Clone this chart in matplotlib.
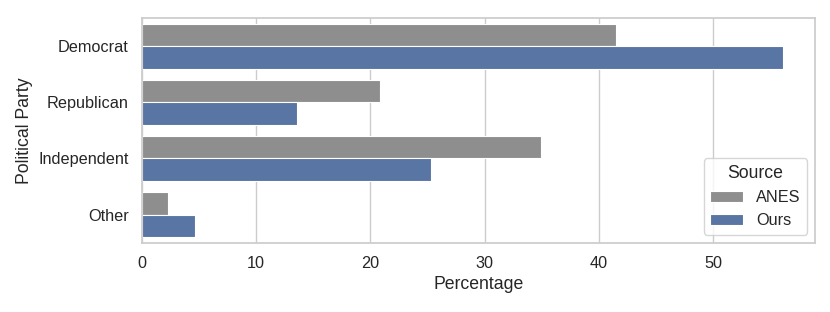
import matplotlib
matplotlib.use("Agg")
import matplotlib.pyplot as plt
import seaborn as sns
import numpy as np

categories = ["Democrat", "Republican", "Independent", "Other"]
sources = ["ANES", "Ours"]
anes = [41.5, 20.8, 34.9, 2.3]
ours = [56.1, 13.6, 25.3, 4.6]

sns.set_theme(style="whitegrid")
plt.rcParams['font.family'] = ['Arial', 'Liberation Sans', 'DejaVu Sans']
plt.rcParams.update({
    'xtick.labelsize': 11.7, 'ytick.labelsize': 11.7,
    'axes.labelsize': 12.7, 'legend.fontsize': 11.7,
    'legend.title_fontsize': 12.7,
})

fig, ax = plt.subplots(figsize=(8.3, 3.12), dpi=100)
y = np.arange(len(categories))
h = 0.4
colors = {"ANES": "#8e8e8e", "Ours": "#5975a4"}
ax.barh(y - h/2, anes, height=h, color=colors["ANES"], edgecolor="white", linewidth=0.8, label="ANES")
ax.barh(y + h/2, ours, height=h, color=colors["Ours"], edgecolor="white", linewidth=0.8, label="Ours")
ax.set_yticks(y)
ax.set_yticklabels(categories)
ax.set_ylim(len(categories) - 0.5, -0.5)
ax.set_xlim(0, 58.9)
ax.yaxis.grid(False)
ax.set_xlabel("Percentage")
ax.set_ylabel("Political Party")
ax.legend(title="Source", loc="lower right")
fig.subplots_adjust(left=0.171, right=0.982, top=0.942, bottom=0.222)
fig.savefig("out.png", dpi=100)
